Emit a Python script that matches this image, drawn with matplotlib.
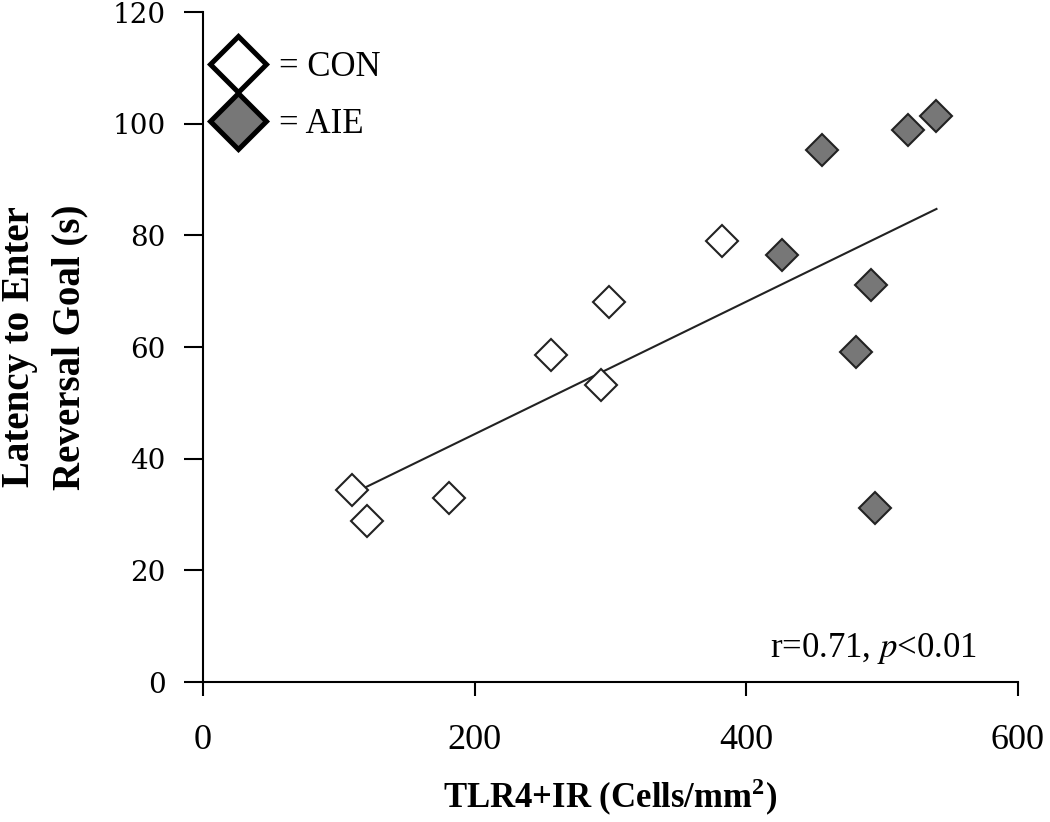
import numpy as np
import matplotlib.pyplot as plt
from matplotlib.lines import Line2D

# TLR4+IR cells/mm2 vs latency (s)
con_x = [110, 121, 181, 256, 293, 299, 382]
con_y = [34.4, 28.9, 33.0, 58.6, 53.2, 68.1, 79.0]
aie_x = [426, 456, 481, 492, 495, 519, 540]
aie_y = [76.5, 95.3, 59.1, 71.1, 31.2, 98.9, 101.3]

xticks = [0, 200, 400, 600]
yticks = [0, 20, 40, 60, 80, 100, 120]

plt.rcParams['font.family'] = ['Liberation Serif', 'DejaVu Serif']
plt.rcParams['mathtext.fontset'] = 'stix'

fig = plt.figure(figsize=(10.5, 8.22), dpi=100)
ax = fig.add_axes([0.1933, 0.1703, 0.7762, 0.8151])

# linear fit over all animals
all_x = np.array(con_x + aie_x)
all_y = np.array(con_y + aie_y)
slope, icpt = np.polyfit(all_x, all_y, 1)
xs = np.array([all_x.min(), all_x.max()])
ax.plot(xs, slope * xs + icpt, color='#222222', lw=1.5, zorder=1)

gray = '#777777'
ax.plot(con_x, con_y, 'D', ms=16.5, mfc='white', mec='#222222', mew=1.5, zorder=2)
ax.plot(aie_x, aie_y, 'D', ms=16.5, mfc=gray, mec='#222222', mew=1.5, zorder=2)

ax.set_xlim(0, 600)
ax.set_ylim(0, 120)
ax.set_xticks(xticks)
ax.set_yticks(yticks)
for s in ['top', 'right']:
    ax.spines[s].set_visible(False)
for s in ['left', 'bottom']:
    ax.spines[s].set_linewidth(1.5)
ax.tick_params(axis='x', direction='out', length=10, width=1.5, pad=20, labelsize=26)
ax.tick_params(axis='y', direction='out', length=14, width=1.5, pad=13, labelsize=20)
for lab in ax.get_yticklabels():
    lab.set_family('DejaVu Serif')

ax.set_xlabel('TLR4+IR (Cells/mm$^\\mathregular{2}$)', fontsize=25, fontweight='bold', labelpad=14)
ax.set_ylabel('Latency to Enter\nReversal Goal (s)', fontsize=28, fontweight='bold', labelpad=17,
              linespacing=1.48)

ax.text(0.95, 0.037, 'r=0.71, $\\mathit{p}$<0.01', transform=ax.transAxes, ha='right', va='baseline',
        fontsize=25)

handles = [Line2D([], [], ls='none', marker='D', ms=29, mfc='white', mec='black', mew=3.6),
           Line2D([], [], ls='none', marker='D', ms=29, mfc=gray, mec='black', mew=3.6)]
ax.legend(handles, ['= CON', '= AIE'], loc='upper left', frameon=False, fontsize=25,
          handletextpad=0.2, borderpad=0, borderaxespad=0, labelspacing=0.7,
          handlelength=2.0, bbox_to_anchor=(0.0, 0.942))

fig.savefig('out.png', dpi=100)
